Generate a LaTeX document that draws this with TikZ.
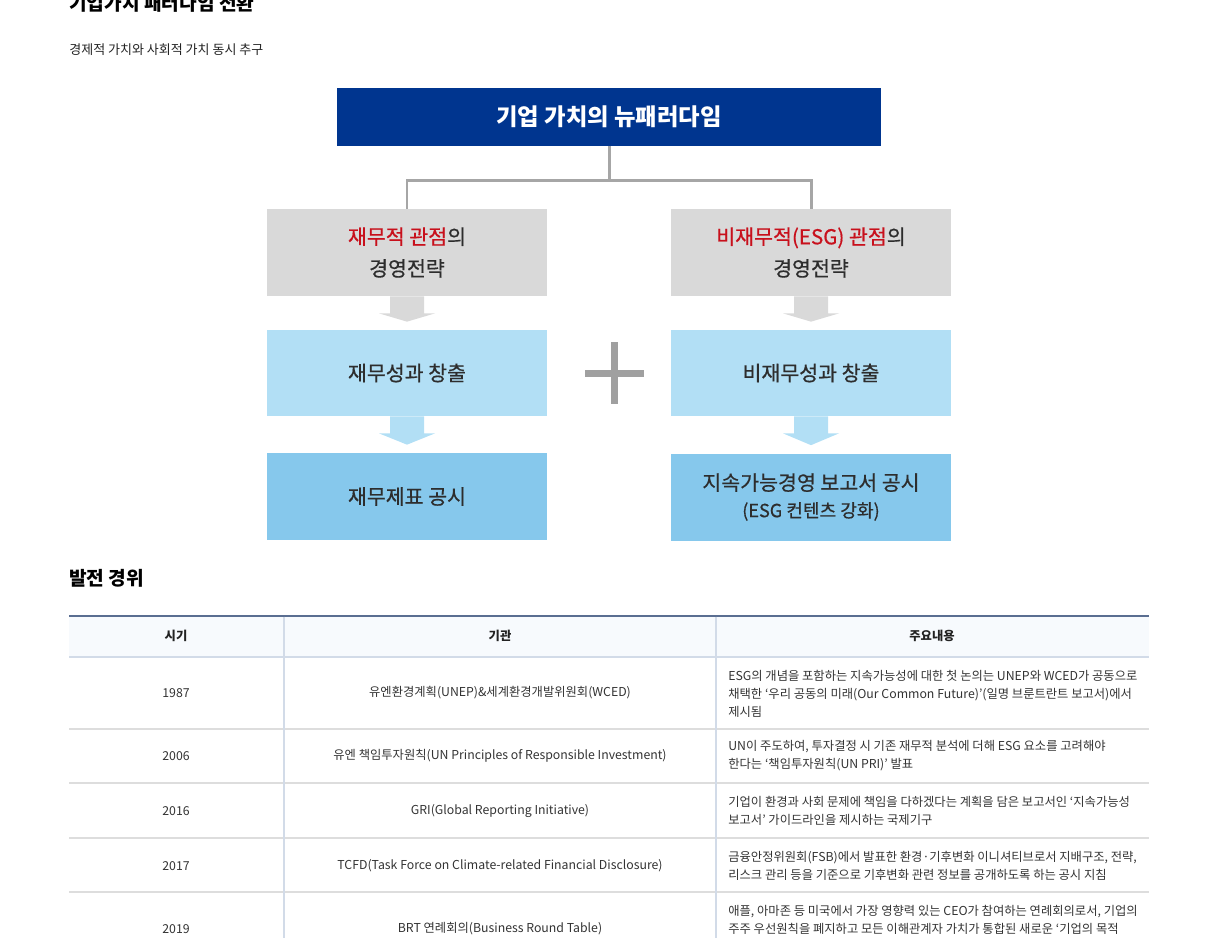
\documentclass[tikz,border=0pt]{standalone}
\usepackage{fontspec}
\setmainfont{Noto Sans CJK KR}
\newfontfamily\boxfont[FakeBold=0.6]{Noto Sans CJK KR}
\usetikzlibrary{positioning,calc}

\definecolor{headBlue}{RGB}{0,53,143}
\definecolor{persGray}{RGB}{217,217,217}
\definecolor{keyRed}{RGB}{200,16,28}
\definecolor{outLight}{RGB}{178,223,245}
\definecolor{outMid}{RGB}{134,200,236}
\definecolor{linkGray}{RGB}{166,166,166}
\definecolor{plusGray}{RGB}{160,160,160}
\definecolor{inkDark}{RGB}{34,34,34}
\definecolor{inkBox}{RGB}{45,45,45}
\definecolor{inkBody}{RGB}{51,51,51}
\definecolor{tableTopLine}{RGB}{90,110,145}
\definecolor{tableHead}{RGB}{247,250,253}
\definecolor{tableRule}{RGB}{221,221,221}
\definecolor{tableCol}{RGB}{210,219,232}

\begin{document}
\begin{tikzpicture}[
  x=0.02cm,
  y=-0.02cm,
  pageTitle/.style={font=\fontsize{10.9}{13}\selectfont\bfseries, text=black, inner sep=0pt},
  subTitle/.style={font=\fontsize{7.4}{9}\selectfont, text=inkDark, inner sep=0pt},
  headBox/.style={fill=headBlue, text=white, minimum width=10.88cm, minimum height=1.16cm,
    font=\fontsize{13.3}{16}\selectfont\bfseries, inner sep=0pt},
  persBox/.style={fill=persGray, text=inkBox, minimum width=5.6cm, minimum height=1.74cm,
    align=center, font=\boxfont\fontsize{11.7}{18.1}\selectfont, inner sep=0pt},
  lightBox/.style={fill=outLight, text=inkBox, minimum width=5.6cm, minimum height=1.72cm,
    align=center, font=\boxfont\fontsize{11.7}{14}\selectfont, inner sep=0pt},
  midBox/.style={fill=outMid, text=inkBox, minimum width=5.6cm, minimum height=1.74cm,
    align=center, font=\boxfont\fontsize{11.7}{15.3}\selectfont, inner sep=0pt},
  linkLine/.style={draw=linkGray, line width=1.7pt},
  cellHead/.style={font=\fontsize{7}{9}\selectfont\bfseries, text=inkDark, inner sep=0pt},
  cellText/.style={font=\fontsize{7}{9}\selectfont, text=inkBody, inner sep=0pt},
  noteText/.style={font=\fontsize{7}{10.2}\selectfont, text=inkBody, align=left, inner sep=0pt, anchor=west}
]
\useasboundingbox (0,0) rectangle (1217,938);
\clip (0,0) rectangle (1217,938);

% headings
\node[pageTitle, anchor=base west] (pgTitle) at (69,10.5) {기업가치 패러다임 전환};
\node[subTitle, anchor=west] (pgSub) at (69,50) {경제적 가치와 사회적 가치 동시 추구};

% paradigm diagram
\node[headBox] (paradigm) at (609,117) {기업 가치의 뉴패러다임};

\node[persBox] (persL) at (407,252.5) {\textcolor{keyRed}{재무적 관점}의\\경영전략};
\node[persBox] (persR) at (811,252.5) {\textcolor{keyRed}{비재무적(ESG) 관점}의\\경영전략};

\node[lightBox] (outL) at (407,373) {재무성과 창출};
\node[lightBox] (outR) at (811,373) {비재무성과 창출};

\node[midBox] (discL) at (407,496.5) {재무제표 공시};
\node[midBox] (discR) at (811,497) {지속가능경영 보고서 공시\\{\fontsize{10.3}{12}\selectfont (ESG 컨텐츠 강화)}};

\draw[linkLine] (paradigm.south) -- ++(0,34) coordinate (fork);
\draw[linkLine] (fork) -| (persL.north);
\draw[linkLine] (fork) -| (persR.north);

% block arrows
\foreach \a/\b/\c in {persL/outL/persGray, persR/outR/persGray, outL/discL/outLight, outR/discR/outLight} {
  \fill[\c] ($(\a.south)+(-17,0)$) -- ($(\a.south)+(17,0)$) -- ($(\a.south)+(17,17)$)
    -- ($(\a.south)+(28,17)$) -- ($(\b.north)+(0,-8)$) -- ($(\a.south)+(-28,17)$)
    -- ($(\a.south)+(-17,17)$) -- cycle;
}

% plus sign
\fill[plusGray] (610.5,342) rectangle (617.5,404);
\fill[plusGray] (585,369.5) rectangle (644,376.5);

% history table
\node[pageTitle, anchor=west] (histTitle) at (69,578) {발전 경위};

\fill[tableHead] (69,616) rectangle (1149,657);
\draw[tableTopLine, line width=0.6pt] (69,616) -- (1149,616);
\draw[tableCol, line width=0.6pt] (69,657) -- (1149,657);
\foreach \yy in {729,783,838,892} {
  \draw[tableRule, line width=0.6pt] (69,\yy) -- (1149,\yy);
}
\foreach \xx in {284,716} {
  \draw[tableCol, line width=0.6pt] (\xx,616.5) -- (\xx,938);
}

\node[cellHead] (hdYear) at (176,636) {시기};
\node[cellHead] (hdOrg) at (500,636) {기관};
\node[cellHead] (hdNote) at (932,636) {주요내용};

\foreach \yy/\yr/\org in {693/1987/{유엔환경계획(UNEP)\&세계환경개발위원회(WCED)},
                         756/2006/{유엔 책임투자원칙(UN Principles of Responsible Investment)},
                         811/2016/{GRI(Global Reporting Initiative)},
                         866/2017/{TCFD(Task Force on Climate-related Financial Disclosure)},
                         929/2019/{BRT 연례회의(Business Round Table)}} {
  \node[cellText] (year\yr) at (176,\yy) {\yr};
  \node[cellText] (org\yr) at (500,\yy) {\org};
}

\node[noteText] (note1987) at (728,694) {ESG의 개념을 포함하는 지속가능성에 대한 첫 논의는 UNEP와 WCED가 공동으로\\채택한 ‘우리 공동의 미래(Our Common Future)’(일명 브룬트란트 보고서)에서\\제시됨};
\node[noteText] (note2006) at (728,756) {UN이 주도하여, 투자결정 시 기존 재무적 분석에 더해 ESG 요소를 고려해야\\한다는 ‘책임투자원칙(UN PRI)’ 발표};
\node[noteText] (note2016) at (728,811) {기업이 환경과 사회 문제에 책임을 다하겠다는 계획을 담은 보고서인 ‘지속가능성\\보고서’ 가이드라인을 제시하는 국제기구};
\node[noteText] (note2017) at (728,866) {금융안정위원회(FSB)에서 발표한 환경·기후변화 이니셔티브로서 지배구조, 전략,\\리스크 관리 등을 기준으로 기후변화 관련 정보를 공개하도록 하는 공시 지침};
\node[noteText] (note2019) at (728,920) {애플, 아마존 등 미국에서 가장 영향력 있는 CEO가 참여하는 연례회의로서, 기업의\\주주 우선원칙을 폐지하고 모든 이해관계자 가치가 통합된 새로운 ‘기업의 목적};
\end{tikzpicture}
\end{document}
